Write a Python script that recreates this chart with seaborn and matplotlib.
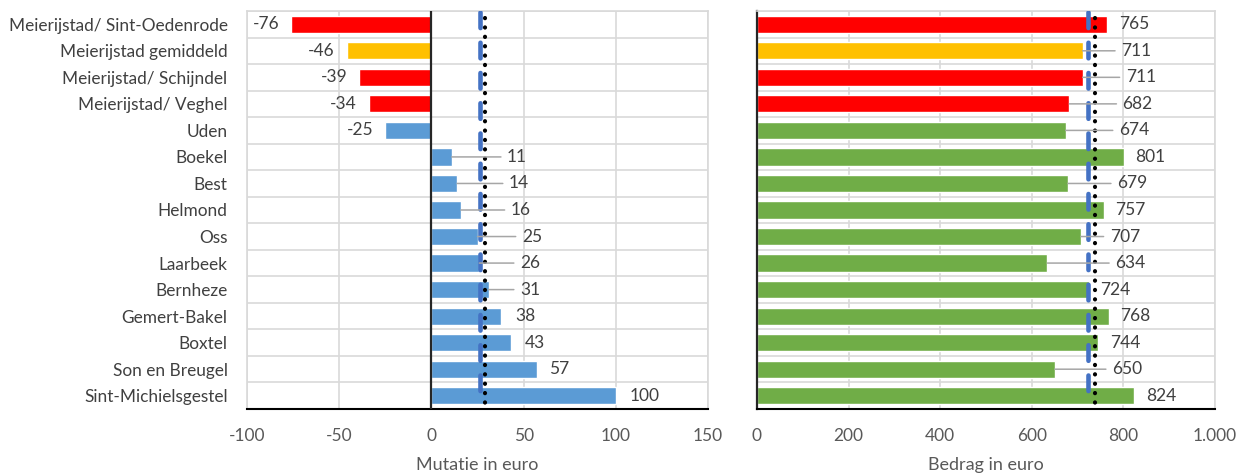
import matplotlib
matplotlib.use("Agg")
import matplotlib.pyplot as plt
import seaborn as sns

# data
gemeenten = ["Meierijstad/ Sint-Oedenrode", "Meierijstad gemiddeld", "Meierijstad/ Schijndel",
             "Meierijstad/ Veghel", "Uden", "Boekel", "Best", "Helmond", "Oss", "Laarbeek",
             "Bernheze", "Gemert-Bakel", "Boxtel", "Son en Breugel", "Sint-Michielsgestel"]
mutatie = [-76, -46, -39, -34, -25, 11, 14, 16, 25, 26, 31, 38, 43, 57, 100]
bedrag = [765, 711, 711, 682, 674, 801, 679, 757, 707, 634, 724, 768, 744, 650, 824]
# where the value labels sit (x of the label's left edge, Excel moved some of them)
mutatie_label_x = [None, None, None, None, None, 41, 42, 43, 49, 48, 48, 45.6, 50.6, 64, 107.5]
bedrag_label_x = [791, 795, 805, 798, 790, 826, 786, 782, 770, 782, 750, 793, 770, 775, 850]
# reference lines (blue dashed / black dotted)
mutatie_ref = [26.4, 29.0]
bedrag_ref = [722, 739]

RED, YELLOW, BLUE, GREEN = "#FF0000", "#FFC000", "#5B9BD5", "#70AD47"
kleur_links = [RED, YELLOW, RED, RED] + [BLUE] * 11
kleur_rechts = [RED, YELLOW, RED, RED] + [GREEN] * 11

sns.set_theme(style="white")
plt.rcParams["font.family"] = ["Lato", "DejaVu Sans"]

fig = plt.figure(figsize=(12.4, 4.75), dpi=100)
ax1 = fig.add_axes([247 / 1240, 1 - 409 / 475, 461 / 1240, 398 / 475])
ax2 = fig.add_axes([757 / 1240, 1 - 409 / 475, 458 / 1240, 398 / 475])

GRID = "#D9D9D9"
TXT = "#404040"


def style_axis(ax, xlim, ticks, ticklabels, xlabel):
    ax.set_xlim(*xlim)
    ax.set_ylim(14.5, -0.5)
    ax.set_xticks(ticks)
    ax.set_xticklabels(ticklabels, fontsize=12.5, color="#595959")
    ax.set_yticks([i + 0.5 for i in range(-1, 15)], minor=True)
    ax.grid(True, which="minor", axis="y", color=GRID, lw=1.2)
    ax.grid(True, which="major", axis="x", color=GRID, lw=1.2)
    ax.set_axisbelow(True)
    ax.tick_params(axis="both", which="both", length=0)
    ax.tick_params(axis="x", pad=14)
    for s in ["top", "right", "left"]:
        ax.spines[s].set_color(GRID)
        ax.spines[s].set_linewidth(1.2)
    ax.spines["bottom"].set_color("black")
    ax.spines["bottom"].set_linewidth(1.5)
    ax.set_xlabel(xlabel, fontsize=13, color="#595959", labelpad=9)
    ax.set_ylabel("")


def ref_lines(ax, refs):
    ax.plot([refs[0], refs[0]], [-0.45, 14.3], color="#4472C4", lw=3.3,
            linestyle=(0, (3.4, 3.2)), solid_capstyle="round", dash_capstyle="round", zorder=4)
    ax.plot([refs[1], refs[1]], [-0.25, 14.3], color="black", lw=3.0,
            linestyle=(0, (0.05, 2.2)), dash_capstyle="round", zorder=5)


def labels(ax, values, label_x, gap, neg_gap):
    for i, (v, lx) in enumerate(zip(values, label_x)):
        if v < 0:
            ax.text(v - neg_gap, i, str(v), ha="right", va="center", fontsize=12.5, color=TXT)
            continue
        if lx - v > 1.5 * gap:
            ax.annotate(str(v), xy=(v, i), xytext=(lx, i), ha="left", va="center",
                        fontsize=12.5, color=TXT, zorder=6,
                        arrowprops=dict(arrowstyle="-", color="#A6A6A6", lw=1.1,
                                        shrinkA=2, shrinkB=0))
        else:
            ax.text(lx, i, str(v), ha="left", va="center", fontsize=12.5, color=TXT, zorder=6)


# left: mutatie
sns.barplot(x=mutatie, y=gemeenten, hue=gemeenten, palette=kleur_links, legend=False,
            orient="h", width=0.65, saturation=1, ax=ax1)
style_axis(ax1, (-100, 150), [-100, -50, 0, 50, 100, 150],
           ["-100", "-50", "0", "50", "100", "150"], "Mutatie in euro")
ax1.axvline(0, color="#262626", lw=1.6, zorder=3)
ax1.set_yticks(range(15))
ax1.set_yticklabels(gemeenten, fontsize=12.4, color="#404040")
ax1.tick_params(axis="y", pad=14)
ref_lines(ax1, mutatie_ref)
labels(ax1, mutatie, mutatie_label_x, 7, 6.5)

# right: bedrag
sns.barplot(x=bedrag, y=gemeenten, hue=gemeenten, palette=kleur_rechts, legend=False,
            orient="h", width=0.65, saturation=1, ax=ax2)
style_axis(ax2, (0, 1000), [0, 200, 400, 600, 800, 1000],
           ["0", "200", "400", "600", "800", "1.000"], "Bedrag in euro")
ax2.set_yticks(range(15))
ax2.set_yticklabels([])
ax2.spines["left"].set_color("#262626")
ax2.spines["left"].set_linewidth(1.6)
ref_lines(ax2, bedrag_ref)
labels(ax2, bedrag, bedrag_label_x, 25, 0)

fig.savefig("out.png", dpi=100)
